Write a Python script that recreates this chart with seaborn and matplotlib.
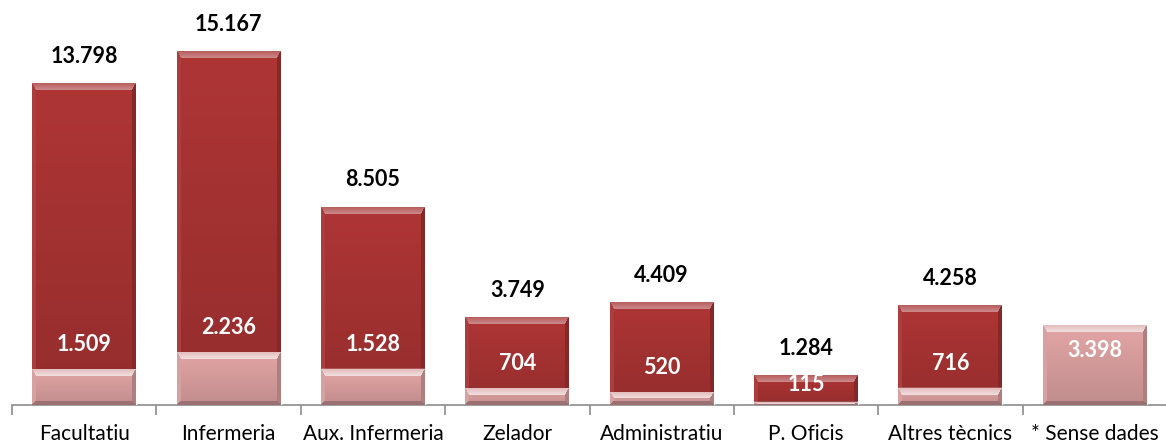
import numpy as np
import pandas as pd
import matplotlib
matplotlib.use("Agg")
import matplotlib.pyplot as plt
import seaborn as sns
from matplotlib.colors import to_rgb

categories = ["Facultatiu", "Infermeria", "Aux. Infermeria", "Zelador",
              "Administratiu", "P. Oficis", "Altres tècnics", "* Sense dades"]
total_values = [13798, 15167, 8505, 3749, 4409, 1284, 4258, np.nan]
subset_values = [1509, 2236, 1528, 704, 520, 115, 716, 3398]

DARK = "#a53232"
PINK = "#d69c9c"

sns.set_theme(style="white")
plt.rcParams['font.family'] = ['Lato', 'DejaVu Sans']

fig = plt.figure(figsize=(11.66, 4.46), dpi=100)
ax = fig.add_axes([12 / 1166, 41 / 446, 1155 / 1166, 405 / 446])

df = pd.DataFrame({"cat": categories, "total": total_values, "subset": subset_values})
sns.barplot(data=df, x="cat", y="total", color=DARK, saturation=1, width=0.72, ax=ax, zorder=2)
sns.barplot(data=df, x="cat", y="subset", color=PINK, saturation=1, width=0.72, ax=ax, zorder=3)

YMAX = 17400
ax.set_xlim(-0.5, len(categories) - 0.5)
ax.set_ylim(0, YMAX)
ax.set_xlabel("")
ax.set_ylabel("")
ax.set_yticks([])
for s in ["left", "right", "top"]:
    ax.spines[s].set_visible(False)
ax.spines["bottom"].set_color("#8c8c8c")
ax.spines["bottom"].set_linewidth(1.2)
ax.set_xticks(range(len(categories)))
ax.set_xticklabels(categories, fontsize=15, color="#000000")
ax.tick_params(axis="x", which="major", length=0, pad=14)
ax.set_xticks(np.arange(-0.5, len(categories), 1.0), minor=True)
ax.tick_params(axis="x", which="minor", length=7, width=1.2, color="#8c8c8c", bottom=True)

fig.canvas.draw()
renderer = fig.canvas.get_renderer()


def shade(base, H, W, dark):
    base = np.array(to_rgb(base))
    white = np.ones(3)
    rr = np.arange(H)[:, None] * np.ones((1, W))
    cc = np.ones((H, 1)) * np.arange(W)[None, :]
    t = rr / max(H - 1, 1)
    img = base[None, None, :] * (1.06 - 0.16 * t[..., None])
    bt = min(7, H / 2.0)
    bs = min(4, W / 2.0)
    bb = min(4, H / 2.0)
    nt = rr / bt
    nb = (H - 1 - rr) / bb
    nl = cc / bs
    nr = (W - 1 - cc) / bs
    stack = np.stack([nt, nb, nl, nr])
    which = np.argmin(stack, axis=0)
    nmin = np.min(stack, axis=0)
    edge = nmin < 1
    lift = 0.22 if dark else 0.35
    lift2 = 0.45 if dark else 0.7
    m = edge & (which == 0)
    frac = np.clip(nt, 0, 1)[..., None]
    top_col = base + (white - base) * (lift + (lift2 - lift) * frac)
    img = np.where(m[..., None], top_col, img)
    m = edge & (which == 1)
    img[m] = base * 0.72
    m = edge & (which == 2)
    img[m] = base + (white - base) * 0.06
    m = edge & (which == 3)
    img[m] = base * 0.82
    return np.clip(img, 0, 1)


for ci, cont in enumerate(ax.containers[:2]):
    dark = ci == 0
    for p in cont.patches:
        h = p.get_height()
        if not np.isfinite(h) or h <= 0:
            continue
        bbx = p.get_window_extent(renderer)
        H = max(int(round(bbx.height)), 2)
        W = max(int(round(bbx.width)), 2)
        img = shade(DARK if dark else PINK, H, W, dark)
        x0, y0 = p.get_x(), p.get_y()
        ax.imshow(img, extent=[x0, x0 + p.get_width(), y0, y0 + h], aspect="auto",
                  zorder=p.get_zorder() + 0.1, interpolation="nearest")

ax.set_xlim(-0.5, len(categories) - 0.5)
ax.set_ylim(0, YMAX)

# pixels per data unit
ppu = ax.get_window_extent(renderer).height / YMAX
PT = 100 / 72.0


def fmt(v):
    return f"{int(v):,}".replace(",", ".")


for i, (tv, sv) in enumerate(zip(total_values, subset_values)):
    if np.isfinite(tv):
        ax.annotate(fmt(tv), (i, tv), xytext=(0, 19.5), textcoords="offset points",
                    ha="center", va="center", fontsize=15.5, fontweight="bold",
                    color="black", zorder=10)
        off_px = min(25, (tv - sv) * ppu - 9)
        ax.annotate(fmt(sv), (i, sv), xytext=(0, off_px / PT), textcoords="offset points",
                    ha="center", va="center", fontsize=15.5, fontweight="bold",
                    color="white", zorder=10)
    else:
        ax.annotate(fmt(sv), (i, sv), xytext=(0, -18), textcoords="offset points",
                    ha="center", va="center", fontsize=15.5, fontweight="bold",
                    color="white", zorder=10)

fig.savefig("out.png", dpi=100)
